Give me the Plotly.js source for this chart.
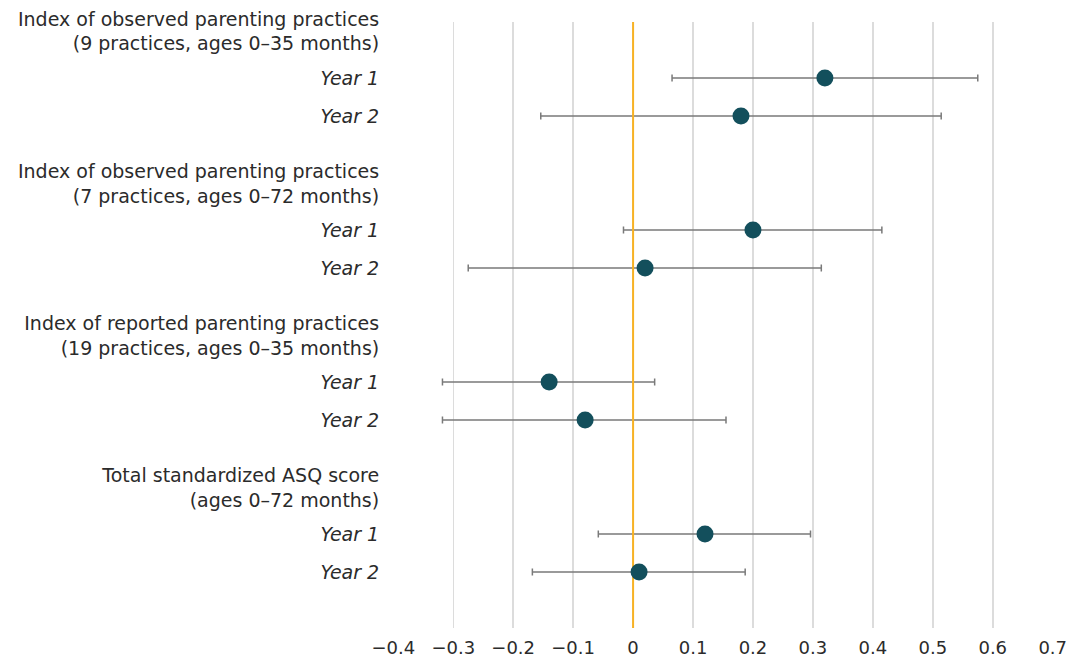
<!DOCTYPE html>
<html>
<head>
<meta charset="utf-8">
<script src="https://cdn.plot.ly/plotly-3.0.1.min.js"></script>
<style>html,body{margin:0;padding:0;background:#fff;}#chart{width:1071px;height:659px;}</style>
</head>
<body>
<div id="chart"></div>
<script>
// ---- data ----
const groupLabels = [
  'Index of observed parenting practices<br>(9 practices, ages 0–35 months)',
  'Index of observed parenting practices<br>(7 practices, ages 0–72 months)',
  'Index of reported parenting practices<br>(19 practices, ages 0–35 months)',
  'Total standardized ASQ score<br>(ages 0–72 months)'
];
const yearLabels = ['Year 1', 'Year 2'];
// estimates in group order, Year 1 then Year 2
const estimates = [0.32, 0.18, 0.20, 0.02, -0.14, -0.08, 0.12, 0.01];
const ciLower   = [0.065, -0.154, -0.016, -0.275, -0.318, -0.318, -0.058, -0.168];
const ciUpper   = [0.575, 0.514, 0.415, 0.314, 0.036, 0.155, 0.296, 0.187];
const xTicks    = [-0.4, -0.3, -0.2, -0.1, 0, 0.1, 0.2, 0.3, 0.4, 0.5, 0.6, 0.7];

// ---- layout helpers ----
const slotsPerGroup = 4;
const firstRow = 2;
const headerOffset = -1.22;
const yRange = [16.47, 0.53];

const yPos = [], tickVals = [], tickText = [];
groupLabels.forEach((g, gi) => {
  tickVals.push(gi * slotsPerGroup + firstRow + headerOffset);
  tickText.push(g);
  yearLabels.forEach((yl, yi) => {
    const p = gi * slotsPerGroup + firstRow + yi;
    yPos.push(p);
    tickVals.push(p);
    tickText.push('<i>' + yl + '</i>');
  });
});

const errPlus = estimates.map((e, i) => ciUpper[i] - e);
const errMinus = estimates.map((e, i) => e - ciLower[i]);

const font = '"DejaVu Sans", "Open Sans", sans-serif';

const traces = [
  {
    type: 'scatter', mode: 'markers', x: estimates, y: yPos,
    marker: {size: 1, opacity: 0, color: '#134f5c'},
    error_x: {type: 'data', symmetric: false, array: errPlus, arrayminus: errMinus,
              color: '#7a7a7a', thickness: 1.5, width: 3.5},
    hoverinfo: 'skip', showlegend: false
  },
  {
    type: 'scatter', mode: 'lines', x: [0, 0], y: yRange,
    line: {color: '#f8b224', width: 2},
    hoverinfo: 'skip', showlegend: false
  },
  {
    type: 'scatter', mode: 'markers', x: estimates, y: yPos,
    marker: {size: 17, color: '#134f5c'},
    hoverinfo: 'skip', showlegend: false
  }
];

const layout = {
  width: 1071, height: 659,
  margin: {l: 393, r: 18, t: 22, b: 31, pad: 0},
  paper_bgcolor: '#ffffff', plot_bgcolor: '#ffffff',
  font: {family: font, size: 18, color: '#2b2b2b'},
  showlegend: false,
  xaxis: {
    range: [-0.4005, 0.7005], tickvals: xTicks,
    showgrid: true, gridcolor: '#dcdcdc', gridwidth: 1.5,
    zeroline: false, showline: false,
    ticks: 'outside', ticklen: 3, tickcolor: 'rgba(0,0,0,0)',
    tickfont: {family: font, size: 18, color: '#2b2b2b'}
  },
  yaxis: {
    range: yRange, tickvals: tickVals, ticktext: tickText,
    showgrid: false, zeroline: false, showline: false,
    ticks: 'outside', ticklen: 9, tickcolor: 'rgba(0,0,0,0)',
    tickfont: {family: font, size: 19, color: '#2b2b2b'}
  }
};

Plotly.newPlot('chart', traces, layout, {displayModeBar: false, staticPlot: true});
</script>
</body>
</html>
